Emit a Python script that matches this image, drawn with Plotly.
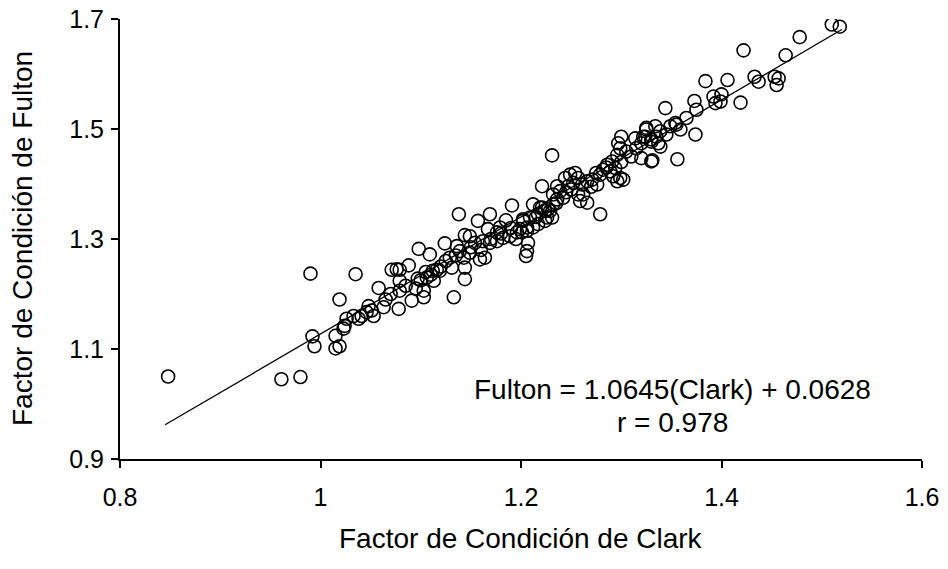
import plotly.graph_objects as go

# Factor de Condición de Clark (x) vs Fulton (y)
clark = [0.848, 0.961, 0.980, 0.990, 0.992, 0.994, 1.015, 1.015, 1.019, 1.019,
         1.024, 1.023, 1.026, 1.033, 1.038, 1.041, 1.035, 1.046, 1.048, 1.051,
         1.053, 1.058, 1.063, 1.071, 1.076, 1.079, 1.088, 1.079, 1.079, 1.078,
         1.091, 1.098, 1.103, 1.103, 1.097, 1.105, 1.112, 1.116, 1.109, 1.124,
         1.133, 1.119, 1.113, 1.106, 1.131, 1.129, 1.136, 1.139, 1.143, 1.144,
         1.144, 1.138, 1.149, 1.154, 1.159, 1.164, 1.162, 1.169, 1.176, 1.182,
         1.189, 1.196, 1.199, 1.206, 1.212, 1.217, 1.224, 1.231, 1.227, 1.232,
         1.221, 1.209, 1.202, 1.144, 1.149, 1.157, 1.169, 1.185, 1.179, 1.167,
         1.176, 1.191, 1.207, 1.206, 1.205, 1.221, 1.236, 1.231, 1.279, 1.330,
         1.325, 1.334, 1.300, 1.314, 1.322, 1.330, 1.299, 1.305, 1.296, 1.297,
         1.286, 1.291, 1.294, 1.289, 1.282, 1.279, 1.292, 1.299, 1.302, 1.296,
         1.244, 1.249, 1.254, 1.257, 1.252, 1.247, 1.261, 1.266, 1.271, 1.276,
         1.257, 1.262, 1.239, 1.242, 1.232, 1.236, 1.259, 1.266, 1.212, 1.219,
         1.224, 1.229, 1.217, 1.226, 1.202, 1.206, 1.201, 1.384, 1.406, 1.433,
         1.437, 1.453, 1.455, 1.373, 1.392, 1.400, 1.399, 1.394, 1.419, 1.375,
         1.344, 1.354, 1.355, 1.359, 1.349, 1.374, 1.339, 1.335, 1.330, 1.325,
         1.324, 1.320, 1.337, 1.339, 1.331, 1.356, 1.320, 1.510, 1.518, 1.478,
         1.422, 1.464, 1.457, 1.065, 1.085, 1.095, 1.070, 1.100, 1.110, 1.120,
         1.125, 1.135, 1.150, 1.160, 1.170, 1.180, 1.190, 1.195, 1.215, 1.235,
         1.245, 1.250, 1.270, 1.275, 1.285, 1.300, 1.310, 1.315, 1.345, 1.365]

fulton = [1.050, 1.045, 1.049, 1.237, 1.123, 1.105, 1.124, 1.101, 1.190, 1.105,
          1.142, 1.137, 1.155, 1.160, 1.155, 1.160, 1.236, 1.167, 1.178, 1.170,
          1.160, 1.211, 1.176, 1.244, 1.245, 1.244, 1.252, 1.224, 1.206, 1.173,
          1.188, 1.282, 1.206, 1.194, 1.228, 1.240, 1.242, 1.244, 1.272, 1.292,
          1.194, 1.242, 1.224, 1.230, 1.248, 1.266, 1.287, 1.278, 1.266, 1.248,
          1.227, 1.345, 1.275, 1.293, 1.263, 1.266, 1.296, 1.293, 1.296, 1.302,
          1.305, 1.312, 1.318, 1.315, 1.321, 1.327, 1.333, 1.339, 1.354, 1.363,
          1.357, 1.339, 1.336, 1.307, 1.305, 1.333, 1.345, 1.334, 1.321, 1.318,
          1.312, 1.361, 1.293, 1.278, 1.269, 1.396, 1.396, 1.452, 1.345, 1.441,
          1.502, 1.505, 1.486, 1.483, 1.486, 1.477, 1.465, 1.459, 1.453, 1.474,
          1.435, 1.441, 1.429, 1.423, 1.426, 1.417, 1.414, 1.411, 1.408, 1.405,
          1.411, 1.417, 1.420, 1.411, 1.402, 1.396, 1.399, 1.405, 1.408, 1.399,
          1.381, 1.381, 1.387, 1.375, 1.381, 1.372, 1.369, 1.366, 1.363, 1.357,
          1.351, 1.351, 1.345, 1.339, 1.333, 1.321, 1.312, 1.587, 1.589, 1.595,
          1.586, 1.595, 1.580, 1.551, 1.559, 1.563, 1.550, 1.547, 1.548, 1.535,
          1.538, 1.511, 1.508, 1.499, 1.505, 1.490, 1.496, 1.486, 1.481, 1.499,
          1.486, 1.474, 1.474, 1.468, 1.443, 1.445, 1.447, 1.690, 1.686, 1.667,
          1.643, 1.634, 1.592, 1.190, 1.215, 1.210, 1.200, 1.225, 1.235, 1.250,
          1.260, 1.270, 1.285, 1.280, 1.300, 1.310, 1.320, 1.300, 1.340, 1.365,
          1.385, 1.390, 1.395, 1.420, 1.430, 1.440, 1.450, 1.465, 1.490, 1.520]

# Regression line stated on the chart
slope = 1.0645
intercept = 0.0628
line_x = [0.845, 1.52]
line_y = [slope * v + intercept for v in line_x]

x_ticks = [0.8, 1.0, 1.2, 1.4, 1.6]
x_tick_text = ["0.8", "1", "1.2", "1.4", "1.6"]
y_ticks = [0.9, 1.1, 1.3, 1.5, 1.7]
y_tick_text = ["0.9", "1.1", "1.3", "1.5", "1.7"]

x_title = "Factor de Condición de Clark"
y_title = "Factor de Condición de Fulton"
eq_text = "Fulton = 1.0645(Clark) + 0.0628"
r_text = "r = 0.978"

FONT = "Liberation Sans, Arial, sans-serif"

fig = go.Figure()
fig.add_trace(go.Scatter(x=line_x, y=line_y, mode="lines",
                         line=dict(color="black", width=1.3),
                         showlegend=False, hoverinfo="skip"))
fig.add_trace(go.Scatter(x=clark, y=fulton, mode="markers",
                         marker=dict(symbol="circle-open", size=13, color="black",
                                     line=dict(width=1.6, color="black")),
                         showlegend=False))

axis_common = dict(showline=True, linecolor="black", linewidth=2,
                   ticks="outside", ticklen=7, tickwidth=2, tickcolor="black",
                   showgrid=False, zeroline=False, automargin=False,
                   tickfont=dict(family=FONT, size=25, color="black"))

fig.update_layout(
    width=948, height=569,
    margin=dict(l=120, r=26, t=19, b=110),
    paper_bgcolor="white", plot_bgcolor="white",
    font=dict(family=FONT, color="black"),
    xaxis=dict(range=[0.8, 1.6], tickvals=x_ticks, ticktext=x_tick_text,
               ticklabelstandoff=8, **axis_common),
    yaxis=dict(range=[0.9, 1.7], tickvals=y_ticks, ticktext=y_tick_text,
               ticklabelstandoff=2, **axis_common),
    annotations=[
        dict(x=1.3516, y=1.0267, xref="x", yref="y", showarrow=False,
             text=eq_text, font=dict(family=FONT, size=28, color="black")),
        dict(x=1.3516, y=0.967, xref="x", yref="y", showarrow=False,
             text=r_text, font=dict(family=FONT, size=28, color="black")),
        dict(x=0.5, y=0, xref="paper", yref="paper", showarrow=False,
             yshift=-79, yanchor="middle", xanchor="center",
             text=x_title, font=dict(family=FONT, size=28, color="black")),
        dict(x=0, y=0.5, xref="paper", yref="paper", showarrow=False,
             xshift=-98, xanchor="center", yanchor="middle", textangle=-90,
             text=y_title, font=dict(family=FONT, size=28, color="black")),
    ],
)

# remove the browser's default 8px page margin so the figure fills the window
fig.write_html("out.html",
               config={"displayModeBar": False},
               post_script="document.body.style.margin='0';"
                           "document.body.style.overflow='hidden';")
